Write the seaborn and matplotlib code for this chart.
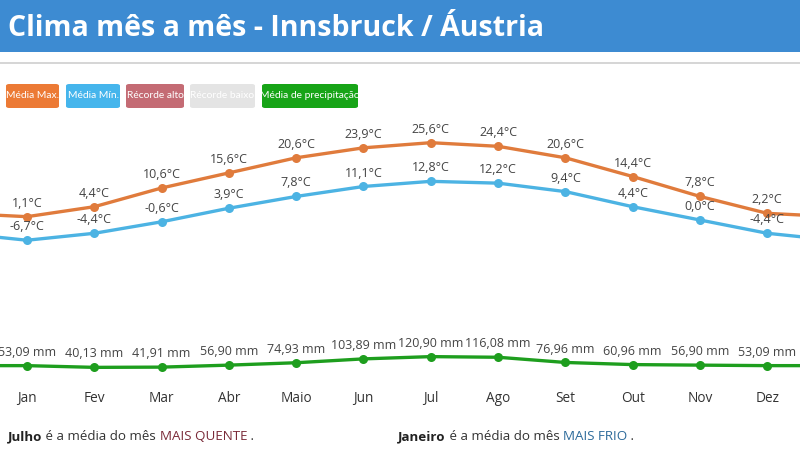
import matplotlib
matplotlib.use("Agg")
import matplotlib.pyplot as plt
from matplotlib.patches import Rectangle, FancyBboxPatch
import seaborn as sns
import pandas as pd

months = ["Jan", "Fev", "Mar", "Abr", "Maio", "Jun", "Jul", "Ago", "Set", "Out", "Nov", "Dez"]
temp_max = [1.1, 4.4, 10.6, 15.6, 20.6, 23.9, 25.6, 24.4, 20.6, 14.4, 7.8, 2.2]
temp_min = [-6.7, -4.4, -0.6, 3.9, 7.8, 11.1, 12.8, 12.2, 9.4, 4.4, 0.0, -4.4]
precip = [53.09, 40.13, 41.91, 56.90, 74.93, 103.89, 120.90, 116.08, 76.96, 60.96, 56.90, 53.09]

legend_labels = ["Média Max.", "Média Mín.", "Récorde alto", "Récorde baixo", "Média de precipitação"]
legend_colors = ["#ec7a35", "#45b5ec", "#c46b74", "#e4e4e4", "#17a417"]

title = "Clima mês a mês - Innsbruck / Áustria"

C_MAX = "#e07b3c"
C_MIN = "#4cb3e3"
C_PRE = "#1e9e1e"

sns.set_theme(style="white")
plt.rcParams["font.family"] = ["Open Sans", "DejaVu Sans"]

W, H = 800, 449
fig = plt.figure(figsize=(8.0, 4.49), dpi=100)


def fx(px):
    return px / W


def fy(py):
    return 1 - py / H


# header band
fig.patches.append(Rectangle((0, fy(52)), 1, 52 / H, transform=fig.transFigure,
                             facecolor="#3d8bd2", edgecolor="none", zorder=0))
fig.patches.append(Rectangle((0, fy(64)), 1, 1.5 / H, transform=fig.transFigure,
                             facecolor="#d6d6d6", edgecolor="none", zorder=0))
fig.text(fx(8), fy(28), title, color="white", fontsize=20.5, fontweight="bold",
         va="center", ha="left")

# legend buttons
btn_x = [6, 66, 126, 190, 262]
btn_w = [53, 54, 58, 65, 96]
for x0, w, lab, col in zip(btn_x, btn_w, legend_labels, legend_colors):
    fig.patches.append(FancyBboxPatch((fx(x0), fy(108)), w / W, 24 / H,
                                      boxstyle="round,pad=0,rounding_size=0.004",
                                      transform=fig.transFigure, facecolor=col,
                                      edgecolor="none", zorder=1))
    fig.text(fx(x0 + w / 2), fy(96), lab, color="white", fontsize=7.4,
             ha="center", va="center", zorder=2, family=["Lato", "DejaVu Sans"])

# axes
top_px, bot_px = 115, 380
ax = fig.add_axes([0, fy(bot_px), 1, (bot_px - top_px) / H])
ax2 = ax.twinx()

n = len(months)
xs = list(range(-1, n + 1))
df = pd.DataFrame({
    "x": xs,
    "tmax": [temp_max[-1]] + temp_max + [temp_max[0]],
    "tmin": [temp_min[-1]] + temp_min + [temp_min[0]],
    "prec": [precip[-1]] + precip + [precip[0]],
})

for col, c in (("tmax", C_MAX), ("tmin", C_MIN)):
    sns.lineplot(data=df, x="x", y=col, ax=ax, color=c, linewidth=2.4,
                 marker="o", markersize=6.5, markeredgewidth=0)
sns.lineplot(data=df, x="x", y="prec", ax=ax2, color=C_PRE, linewidth=2.4,
             marker="o", markersize=6.5, markeredgewidth=0)

# scales (pixel mapping)
ax.set_xlim(-0.401, 11.486)
ax.set_ylim((220 - bot_px) / 3.02, (220 - top_px) / 3.02)
ax2.set_ylim((372.7 - bot_px) / 0.133, (372.7 - top_px) / 0.133)

lab_col = "#444444"
for i in range(n):
    ax.annotate(f"{temp_max[i]:.1f}°C".replace(".", ","), (i, temp_max[i]),
                xytext=(0, 5), textcoords="offset points", ha="center", va="bottom",
                fontsize=9, color=lab_col)
    ax.annotate(f"{temp_min[i]:.1f}°C".replace(".", ","), (i, temp_min[i]),
                xytext=(0, 5), textcoords="offset points", ha="center", va="bottom",
                fontsize=9, color=lab_col)
    ax2.annotate(f"{precip[i]:.2f} mm".replace(".", ","), (i, precip[i]),
                 xytext=(0, 5), textcoords="offset points", ha="center", va="bottom",
                 fontsize=9, color=lab_col)

ax.set_xticks(range(n))
ax.set_xticklabels(months, fontsize=9.8, color="#333333")
ax.tick_params(axis="x", length=0, pad=8)
ax.set_yticks([])
ax2.set_yticks([])
ax.set_xlabel("")
ax.set_ylabel("")
ax2.set_ylabel("")
for a in (ax, ax2):
    for s in a.spines.values():
        s.set_visible(False)
    a.patch.set_alpha(0)
    if a.get_legend():
        a.get_legend().remove()


# footer sentences
def chained(x0, parts):
    first = fig.text(fx(x0), fy(440), parts[0][0], color=parts[0][1], fontsize=9.6,
                     fontweight=parts[0][2], va="baseline", ha="left")
    prev = first
    for txt, c, wgt in parts[1:]:
        prev = ax.annotate(txt, xy=(1, 0), xycoords=prev, xytext=(0, 0),
                           textcoords="offset points", color=c, fontsize=9.6,
                           fontweight=wgt, va="bottom", ha="left",
                           annotation_clip=False)


chained(8, [("Julho", "#222222", "bold"), (" é a média do mês ", "#333333", "normal"),
            ("MAIS QUENTE", "#7a2a38", "normal"), (" .", "#333333", "normal")])
chained(398, [("Janeiro", "#222222", "bold"), (" é a média do mês ", "#333333", "normal"),
              ("MAIS FRIO", "#2c6a9a", "normal"), (" .", "#333333", "normal")])

fig.savefig("out.png", dpi=100)
